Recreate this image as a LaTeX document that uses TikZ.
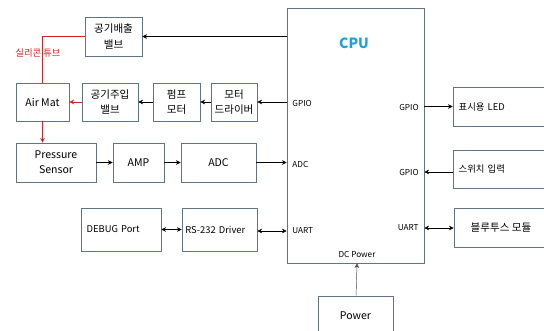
\documentclass[tikz,border=0pt]{standalone}
\usepackage{fontspec}
\setmainfont{Noto Sans CJK KR}
\usepackage{xcolor}
\usepackage{tikz}
\usetikzlibrary{arrows.meta,positioning,calc}
\definecolor{boxedge}{RGB}{96,116,136}
\definecolor{cpucyan}{RGB}{28,160,222}
\definecolor{tubered}{RGB}{222,32,32}

\begin{document}
\begin{tikzpicture}[
    x=0.03cm, y=-0.03cm,
    block/.style={draw=boxedge, line width=0.6pt, minimum height=1.17cm, inner sep=0pt, font=\small, align=center},
    leftblock/.style={block, align=left, inner xsep=0.17cm, font=\footnotesize},
    port/.style={font=\scriptsize, inner sep=1pt},
    tube/.style={draw=tubered, line width=0.8pt},
    >={Stealth[length=4pt,width=4pt]}
]
\useasboundingbox (0,0) rectangle (544,330);

% CPU
\node[block, minimum width=4.11cm, minimum height=7.65cm] (cpu) at (355.5,135.5) {};
\node[font=\large\bfseries, text=cpucyan] (cputitle) at (354,43) {CPU};
\node[port, anchor=west] (gpioL) at (291,103) {GPIO};
\node[port, anchor=west] (adcL) at (291,164) {ADC};
\node[port, anchor=west] (uartL) at (291,231) {UART};
\node[port, anchor=east] (gpioR) at (420,107) {GPIO};
\node[port, anchor=east] (gpioR2) at (420,172) {GPIO};
\node[port, anchor=east] (uartR) at (420,228) {UART};
\node[port] (dcpow) at (357,254) {DC Power};

% left chain
\node[block, minimum width=1.71cm] (vout) at (113.5,36.5) {공기배출\\[2pt]밸브};
\node[block, minimum width=1.59cm, minimum height=1.14cm] (airmat) at (42.5,102) {Air Mat};
\node[block, minimum width=1.68cm, minimum height=1.14cm] (vin) at (110,102) {공기주입\\[2pt]밸브};
\node[block, minimum width=1.41cm, minimum height=1.14cm] (pump) at (176.5,102) {펌프\\[2pt]모터};
\node[block, minimum width=1.38cm, minimum height=1.14cm] (mdrv) at (234,102) {모터\\[2pt]드라이버};
\node[block, minimum width=2.4cm] (sensor) at (56,162.5) {Pressure\\[2pt]Sensor};
\node[block, minimum width=1.53cm] (amp) at (138.5,162.5) {AMP};
\node[block, minimum width=2.25cm] (adc) at (218.5,162.5) {ADC};
\node[leftblock, minimum width=2.4cm, minimum height=1.29cm, text width=2.06cm] (debug) at (121,229.5) {DEBUG Port};
\node[leftblock, minimum width=2.25cm, minimum height=1.29cm, text width=2.05cm, inner xsep=0.1cm] (rs) at (219.5,229.5) {RS-232 Driver};

% right side
\node[leftblock, minimum width=2.85cm, text width=2.51cm] (led) at (500.5,106.5) {표시용 LED};
\node[leftblock, minimum width=2.85cm, minimum height=1.14cm, text width=2.51cm] (sw) at (500.5,169) {스위치 입력};
\node[block, minimum width=2.82cm] (bt) at (501,227.5) {블루투스 모듈};
\node[block, minimum width=2.25cm] (power) at (355.5,315.5) {Power};

% silicone tube
\draw[tube] (vout.west) -| (airmat.north);
\node[font=\footnotesize, text=tubered] (tubelabel) at (38,53) {실리콘 튜브};
\draw[tube, ->] (vin) -- (airmat);
\draw[tube, ->] (airmat) -- (sensor.north -| airmat);

% signal lines
\draw[->] (cpu.west |- vout) -- (vout);
\draw[->] (cpu.west |- mdrv) -- (mdrv);
\draw[->] (mdrv) -- (pump);
\draw[->] (pump) -- (vin);
\draw[->] (sensor) -- (amp);
\draw[->] (amp) -- (adc);
\draw[->] (adc) -- (cpu.west |- adc);
\draw[<->] (debug) -- (rs);
\draw[<->] (rs.east |- uartL) -- (cpu.west |- uartL);
\draw[->] (cpu.east |- led) -- (led);
\draw[->] (sw.west |- gpioR2) -- (cpu.east |- gpioR2);
\draw[<->] (cpu.east |- uartR) -- (bt.west |- uartR);
\draw[->, draw=black!70] (power) -- (cpu.south -| dcpow);
\end{tikzpicture}
\end{document}
